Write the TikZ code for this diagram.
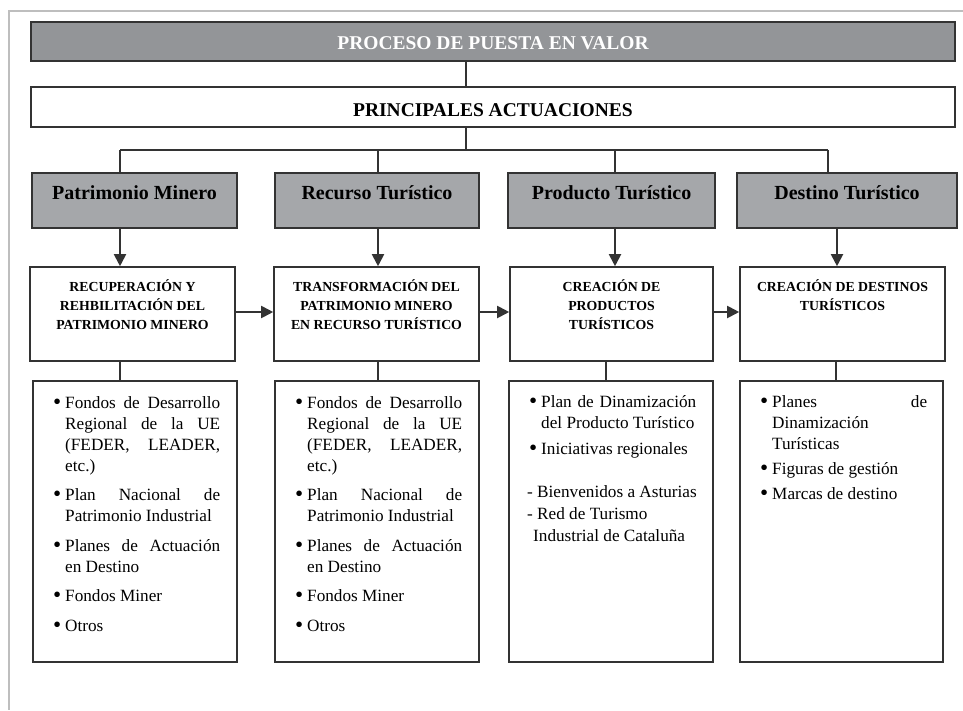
\documentclass[tikz,border=0pt]{standalone}
\usepackage{fontspec}
\setmainfont{Liberation Serif}
\usetikzlibrary{arrows.meta}
\definecolor{topgray}{HTML}{939598}
\definecolor{boxgray}{HTML}{A5A7AA}
\definecolor{edgec}{HTML}{333333}
\definecolor{framegray}{HTML}{BEBEBE}
\newlength\itemgap
\newcommand\jline[1]{\makebox[155pt][s]{#1}}
\newcommand\bigbul{\raisebox{-1.2pt}{\scalebox{1.35}{\textbullet}}}
\newcommand\bitem[1]{\par\hangindent=12pt\hangafter=1\noindent\makebox[12pt][l]{\bigbul}#1\par\vspace{\itemgap}}
\tikzset{
  boxline/.style={draw=edgec, line width=1.6pt},
  topbox/.style={boxline, fill=topgray, minimum width=924pt, minimum height=39pt, inner sep=0pt,
    text=white, font=\bfseries\fontsize{19.5}{22}\selectfont, text height=15pt, text depth=0pt},
  pabox/.style={boxline, fill=white, minimum width=924pt, minimum height=40pt, inner sep=0pt,
    font=\bfseries\fontsize{19.5}{22}\selectfont, text height=18pt, text depth=0pt},
  graybox/.style={boxline, fill=boxgray, minimum height=55pt, inner sep=0pt,
    font=\bfseries\fontsize{20}{24}\selectfont, text height=12pt, text depth=15pt},
  whitebox/.style={boxline, fill=white, minimum height=94pt, inner sep=0pt},
  listbox/.style={boxline, fill=white, minimum height=281pt, inner sep=0pt},
  titletext/.style={anchor=base, inner sep=0pt, font=\bfseries\fontsize{13.8}{19}\selectfont},
  listtext/.style={anchor=base west, inner sep=0pt, font=\fontsize{17.2}{21}\selectfont},
  conn/.style={draw=edgec, line width=1.3pt},
  arr/.style={draw=edgec, line width=1.9pt, -{Triangle[length=12pt,width=12pt]}},
}
\begin{document}
\begin{tikzpicture}[x=1pt,y=-1pt]
\useasboundingbox (0,0) rectangle (963,710);
% page frame
\draw[framegray, line width=2pt] (963,11) -- (9,11) -- (9,710);

% top boxes
\node[topbox] (top) at (493,41.5) {PROCESO DE PUESTA EN VALOR};
\node[pabox] (pa) at (493,107) {PRINCIPALES ACTUACIONES};

% gray header boxes
\node[graybox, minimum width=205pt] (g1) at (134.5,200.5) {Patrimonio Minero};
\node[graybox, minimum width=204pt] (g2) at (377,200.5) {Recurso Turístico};
\node[graybox, minimum width=207pt] (g3) at (611.5,200.5) {Producto Turístico};
\node[graybox, minimum width=220pt] (g4) at (847,200.5) {Destino Turístico};

% white process boxes
\node[whitebox, minimum width=205pt] (w1) at (132.5,314) {};
\node[whitebox, minimum width=205pt] (w2) at (376.5,314) {};
\node[whitebox, minimum width=203pt] (w3) at (611.5,314) {};
\node[whitebox, minimum width=205pt] (w4) at (842.5,314) {};

\node[titletext] (w1t) at (132.5,291) {\parbox[t]{200pt}{\centering RECUPERACIÓN Y\\REHBILITACIÓN DEL\\PATRIMONIO MINERO}};
\node[titletext] (w2t) at (376.5,291) {\parbox[t]{200pt}{\centering TRANSFORMACIÓN DEL\\PATRIMONIO MINERO\\EN RECURSO TURÍSTICO}};
\node[titletext] (w3t) at (611.5,291) {\parbox[t]{200pt}{\centering CREACIÓN DE\\PRODUCTOS\\TURÍSTICOS}};
\node[titletext] (w4t) at (842.5,291) {\parbox[t]{200pt}{\centering CREACIÓN DE DESTINOS\\TURÍSTICOS}};

% list boxes
\node[listbox, minimum width=204pt] (l1) at (135,521.5) {};
\node[listbox, minimum width=204pt] (l2) at (377,521.5) {};
\node[listbox, minimum width=204pt] (l3) at (611,521.5) {};
\node[listbox, minimum width=203pt] (l4) at (841.5,521.5) {};

\node[listtext] (l1t) at (53,408) {\parbox[t]{167pt}{\setlength\itemgap{8.5pt}%
\bitem{\jline{Fondos de Desarrollo}\\\jline{Regional de la UE}\\\jline{(FEDER, LEADER,}\\etc.)}
\bitem{\jline{Plan Nacional de}\\Patrimonio Industrial}
\bitem{\jline{Planes de Actuación}\\en Destino}
\bitem{Fondos Miner}
\bitem{Otros}}};

\node[listtext] (l2t) at (295,408) {\parbox[t]{167pt}{\setlength\itemgap{8.5pt}%
\bitem{\jline{Fondos de Desarrollo}\\\jline{Regional de la UE}\\\jline{(FEDER, LEADER,}\\etc.)}
\bitem{\jline{Plan Nacional de}\\Patrimonio Industrial}
\bitem{\jline{Planes de Actuación}\\en Destino}
\bitem{Fondos Miner}
\bitem{Otros}}};

\node[listtext] (l3t) at (529,407) {\parbox[t]{167pt}{\setlength\itemgap{5pt}%
\bitem{\jline{Plan de Dinamización}\\del Producto Turístico}
\bitem{Iniciativas regionales}}};
\node[listtext, font=\fontsize{17.2}{22}\selectfont] (l3d) at (527,497) {\parbox[t]{180pt}{- Bienvenidos a Asturias\\- Red de Turismo\\\hspace*{6pt}Industrial de Cataluña}};

\node[listtext] (l4t) at (760,407) {\parbox[t]{167pt}{\setlength\itemgap{4pt}%
\bitem{\jline{Planes de}\\Dinamización\\Turísticas}
\bitem{Figuras de gestión}
\bitem{Marcas de destino}}};

% connectors
\coordinate (cx) at (466,0);
\coordinate (b1) at (120,150);
\coordinate (b2) at (378,150);
\coordinate (b3) at (615,150);
\coordinate (b4) at (828,150);
\coordinate (a4) at (837,0);
\coordinate (d3) at (606,0);
\coordinate (d4) at (836,0);
\coordinate (hy) at (0,312);

\draw[conn] (top.south -| cx) -- (pa.north -| cx);
\draw[conn] (pa.south -| cx) -- (cx |- b1);
\draw[conn] (b1) -- (b4);
\draw[conn] (b1) -- (b1 |- g1.north);
\draw[conn] (b2) -- (b2 |- g2.north);
\draw[conn] (b3) -- (b3 |- g3.north);
\draw[conn] (b4) -- (b4 |- g4.north);

\draw[arr] (g1.south -| b1) -- (w1.north -| b1);
\draw[arr] (g2.south -| b2) -- (w2.north -| b2);
\draw[arr] (g3.south -| b3) -- (w3.north -| b3);
\draw[arr] (g4.south -| a4) -- (w4.north -| a4);

\draw[arr] (w1.east |- hy) -- (w2.west |- hy);
\draw[arr] (w2.east |- hy) -- (w3.west |- hy);
\draw[arr] (w3.east |- hy) -- (w4.west |- hy);

\draw[conn] (w1.south -| b1) -- (l1.north -| b1);
\draw[conn] (w2.south -| b2) -- (l2.north -| b2);
\draw[conn] (w3.south -| d3) -- (l3.north -| d3);
\draw[conn] (w4.south -| d4) -- (l4.north -| d4);
\end{tikzpicture}
\end{document}
